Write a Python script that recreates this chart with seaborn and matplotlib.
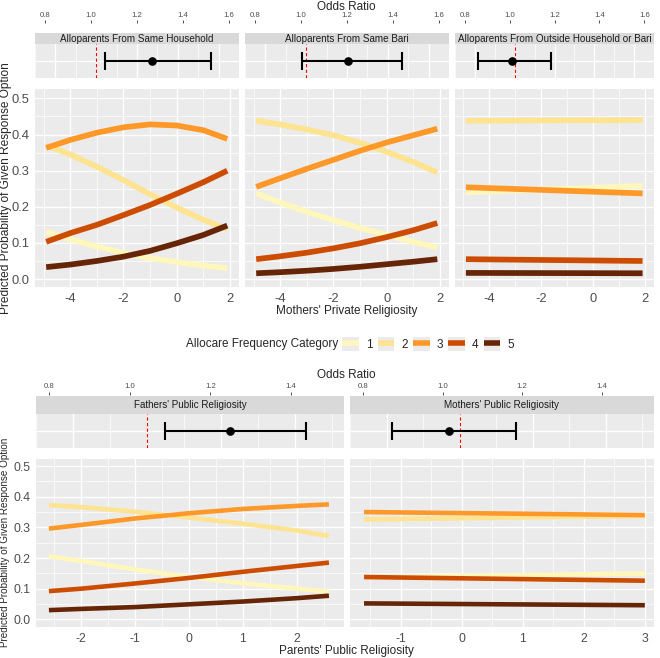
import numpy as np
import pandas as pd
import seaborn as sns
import matplotlib.pyplot as plt
from matplotlib.lines import Line2D
from matplotlib.patches import Patch

categories = ["1", "2", "3", "4", "5"]
cat_colors = ["#fff7bc", "#fee391", "#fe9929", "#cc4c02", "#662506"]

# odds ratios (estimate, lower, upper)
priv_panels = ["Alloparents From Same Household", "Alloparents From Same Bari",
               "Alloparents From Outside Household or Bari"]
priv_or = [1.272, 1.206, 0.985]
priv_lo = [1.041, 0.979, 0.818]
priv_hi = [1.561, 1.470, 1.183]

pub_panels = ["Fathers' Public Religiosity", "Mothers' Public Religiosity"]
pub_or = [1.223, 0.971]
pub_lo = [1.049, 0.816]
pub_hi = [1.429, 1.155]

# predicted probabilities, one row per category 1..5
priv_x = [-4.9, -4, -3, -2, -1, 0, 1, 1.9]
hh_probs = [
    [0.131, 0.110, 0.090, 0.072, 0.058, 0.047, 0.037, 0.030],
    [0.370, 0.345, 0.311, 0.274, 0.235, 0.198, 0.164, 0.138],
    [0.363, 0.385, 0.405, 0.420, 0.428, 0.425, 0.412, 0.388],
    [0.103, 0.127, 0.150, 0.177, 0.205, 0.236, 0.268, 0.300],
    [0.033, 0.040, 0.050, 0.062, 0.078, 0.099, 0.122, 0.148],
]
bari_probs = [
    [0.237, 0.212, 0.186, 0.163, 0.141, 0.122, 0.103, 0.087],
    [0.438, 0.428, 0.414, 0.398, 0.377, 0.352, 0.324, 0.295],
    [0.255, 0.279, 0.305, 0.330, 0.355, 0.378, 0.398, 0.416],
    [0.055, 0.063, 0.073, 0.085, 0.099, 0.116, 0.135, 0.155],
    [0.016, 0.019, 0.023, 0.028, 0.034, 0.041, 0.048, 0.055],
]
out_x = [-4.9, 1.9]
out_probs = [
    [0.240, 0.258],
    [0.438, 0.440],
    [0.254, 0.237],
    [0.055, 0.050],
    [0.017, 0.016],
]

fa_x = [-2.6, -2, -1, 0, 1, 2, 2.6]
fa_probs = [
    [0.206, 0.190, 0.163, 0.138, 0.118, 0.100, 0.090],
    [0.373, 0.366, 0.351, 0.332, 0.312, 0.290, 0.272],
    [0.296, 0.308, 0.329, 0.346, 0.360, 0.370, 0.375],
    [0.092, 0.100, 0.117, 0.135, 0.155, 0.174, 0.185],
    [0.030, 0.034, 0.040, 0.049, 0.058, 0.069, 0.077],
]
mo_x = [-1.6, 3.0]
mo_probs = [
    [0.137, 0.150],
    [0.326, 0.337],
    [0.350, 0.340],
    [0.138, 0.126],
    [0.052, 0.046],
]


def to_long(xs, probs):
    rows = []
    for cat, ys in zip(categories, probs):
        for x, y in zip(xs, ys):
            rows.append((x, y, cat))
    return pd.DataFrame(rows, columns=["x", "prob", "category"])


sns.set_theme(style="darkgrid", rc={"axes.facecolor": "#EBEBEB", "grid.color": "white",
                                    "axes.unicode_minus": False})
plt.rcParams['font.family'] = ['Liberation Sans', 'DejaVu Sans']

W, H = 660, 658
fig = plt.figure(figsize=(W / 100, H / 100), dpi=100)


def box(x0, y0, x1, y1):
    return [x0 / W, 1 - y1 / H, (x1 - x0) / W, (y1 - y0) / H]


def clean(ax):
    for s in ax.spines.values():
        s.set_visible(False)


def forest(xr, strip_y, panel_y, xlim, title, est, lo, hi, ticks, out_pad):
    # strip with the odds ratio axis on top
    sax = fig.add_axes(box(xr[0], strip_y[0], xr[1], strip_y[1]))
    sax.set_facecolor("#D9D9D9")
    sax.grid(False)
    clean(sax)
    sax.set_xlim(*xlim)
    sax.set_ylim(0, 1)
    sax.set_yticks([])
    sax.set_xticks(ticks)
    sax.set_xticklabels(["{:.1f}".format(t) for t in ticks])
    sax.xaxis.tick_top()
    sax.spines['top'].set_position(('outward', out_pad))
    sax.tick_params(axis='x', which='major', top=True, bottom=False, length=2.2, width=0.6,
                    color="#333333", labelsize=5.6, labelcolor="#4D4D4D", pad=1)
    sax.text(0.5, 0.5, title, transform=sax.transAxes, ha='center', va='center',
             fontsize=7.1, color="#1A1A1A")

    ax = fig.add_axes(box(xr[0], panel_y[0], xr[1], panel_y[1]))
    clean(ax)
    ax.set_xlim(*xlim)
    ax.set_ylim(0.4, 1.6)
    ax.set_xticks(ticks)
    ax.set_xticks([t + 0.1 for t in ticks] + [ticks[0] - 0.1], minor=True)
    ax.set_yticks([1])
    ax.tick_params(which='both', length=0, labelbottom=False, labelleft=False)
    ax.grid(which='major', color='white', lw=1.0)
    ax.grid(which='minor', axis='x', color='white', lw=0.5)
    ax.axvline(1.0, color='red', ls=(0, (3, 2)), lw=0.8, zorder=2)
    ax.errorbar([est], [1], xerr=[[est - lo], [hi - est]], fmt='o', color='black',
                ms=5.2, elinewidth=1.5, capsize=6.5, capthick=1.5, zorder=3)
    ax.set_xlabel("")
    ax.set_ylabel("")


def probs_panel(xr, panel_y, xlim, ylim, df, major, minor, lw, tsize, show_y):
    ax = fig.add_axes(box(xr[0], panel_y[0], xr[1], panel_y[1]))
    clean(ax)
    sns.lineplot(data=df, x="x", y="prob", hue="category", hue_order=categories,
                 palette=cat_colors, linewidth=lw, legend=False, errorbar=None,
                 solid_capstyle='butt', ax=ax)
    ax.set_xlim(*xlim)
    ax.set_ylim(*ylim)
    ax.set_xticks(major)
    ax.set_xticklabels([str(t) for t in major])
    ax.set_xticks(minor, minor=True)
    yt = [0.0, 0.1, 0.2, 0.3, 0.4, 0.5]
    ax.set_yticks(yt)
    ax.set_yticks([v + 0.05 for v in yt[:-1]], minor=True)
    ax.grid(which='major', color='white', lw=1.0)
    ax.grid(which='minor', color='white', lw=0.5)
    ax.tick_params(which='major', length=2.5, width=0.6, color="#333333",
                   labelsize=tsize, labelcolor="#4D4D4D", pad=1.5)
    ax.tick_params(which='minor', length=0)
    if show_y:
        ax.set_yticklabels(["{:.1f}".format(v) for v in yt])
    else:
        ax.tick_params(axis='y', which='both', left=False, labelleft=False)
    ax.set_xlabel("")
    ax.set_ylabel("")
    return ax


# ---- top block: mothers' private religiosity ----
top_x = [(35, 239), (245, 449), (455, 654)]
top_data = [to_long(priv_x, hh_probs), to_long(priv_x, bari_probs), to_long(out_x, out_probs)]
for i in range(3):
    forest(top_x[i], (33, 44), (44, 78), (0.757, 1.643), priv_panels[i],
           priv_or[i], priv_lo[i], priv_hi[i], [0.8, 1.0, 1.2, 1.4, 1.6], 7)
    probs_panel(top_x[i], (89, 287), (-5.32, 2.34), (-0.022, 0.526), top_data[i],
                [-4, -2, 0, 2], [-5, -3, -1, 1], 4.1, 9.3, i == 0)

fig.text(346 / W, 1 - 7 / H, "Odds Ratio", ha='center', va='center', fontsize=8.5)
fig.text(347 / W, 1 - 311 / H, "Mothers' Private Religiosity", ha='center', va='center',
         fontsize=8.5)
fig.text(6 / W, 1 - 188 / H, "Predicted Probability of Given Response Option", rotation=90,
         ha='center', va='center', fontsize=8.6)

# legend
fig.text(186 / W, 1 - 344 / H, "Allocare Frequency Category", ha='left', va='center',
         fontsize=8.5)
handles = [(Patch(facecolor="#EBEBEB", edgecolor="none"),
            Line2D([], [], color=c, lw=4, solid_capstyle='butt')) for c in cat_colors]
fig.legend(handles, categories, loc='center left', bbox_to_anchor=(342 / W, 1 - 344 / H),
           ncol=5, frameon=False, fontsize=8.5, handlelength=1.4, handleheight=1.4,
           handletextpad=0.6, columnspacing=0.45, borderaxespad=0, borderpad=0)

# ---- bottom block: parents' public religiosity ----
bot_x = [(36, 344), (350, 654)]
bot_data = [to_long(fa_x, fa_probs), to_long(mo_x, mo_probs)]
bot_xlim = [(-2.84, 2.88), (-1.83, 3.15)]
bot_major = [[-2, -1, 0, 1, 2], [-1, 0, 1, 2, 3]]
bot_minor = [[-2.5, -1.5, -0.5, 0.5, 1.5, 2.5], [-1.5, -0.5, 0.5, 1.5, 2.5]]
for i in range(2):
    forest(bot_x[i], (396, 414), (414, 448), (0.767, 1.532), pub_panels[i],
           pub_or[i], pub_lo[i], pub_hi[i], [0.8, 1.0, 1.2, 1.4], 1)
    probs_panel(bot_x[i], (459, 627), bot_xlim[i], (-0.025, 0.523), bot_data[i],
                bot_major[i], bot_minor[i], 3.3, 8.8, i == 0)

fig.text(346 / W, 1 - 375 / H, "Odds Ratio", ha='center', va='center', fontsize=8.5)
fig.text(346 / W, 1 - 651 / H, "Parents' Public Religiosity", ha='center', va='center',
         fontsize=8.5)
fig.text(5 / W, 1 - 542 / H, "Predicted Probability of Given Response Option", rotation=90,
         ha='center', va='center', fontsize=7.1)

fig.savefig("out.png", dpi=100)
